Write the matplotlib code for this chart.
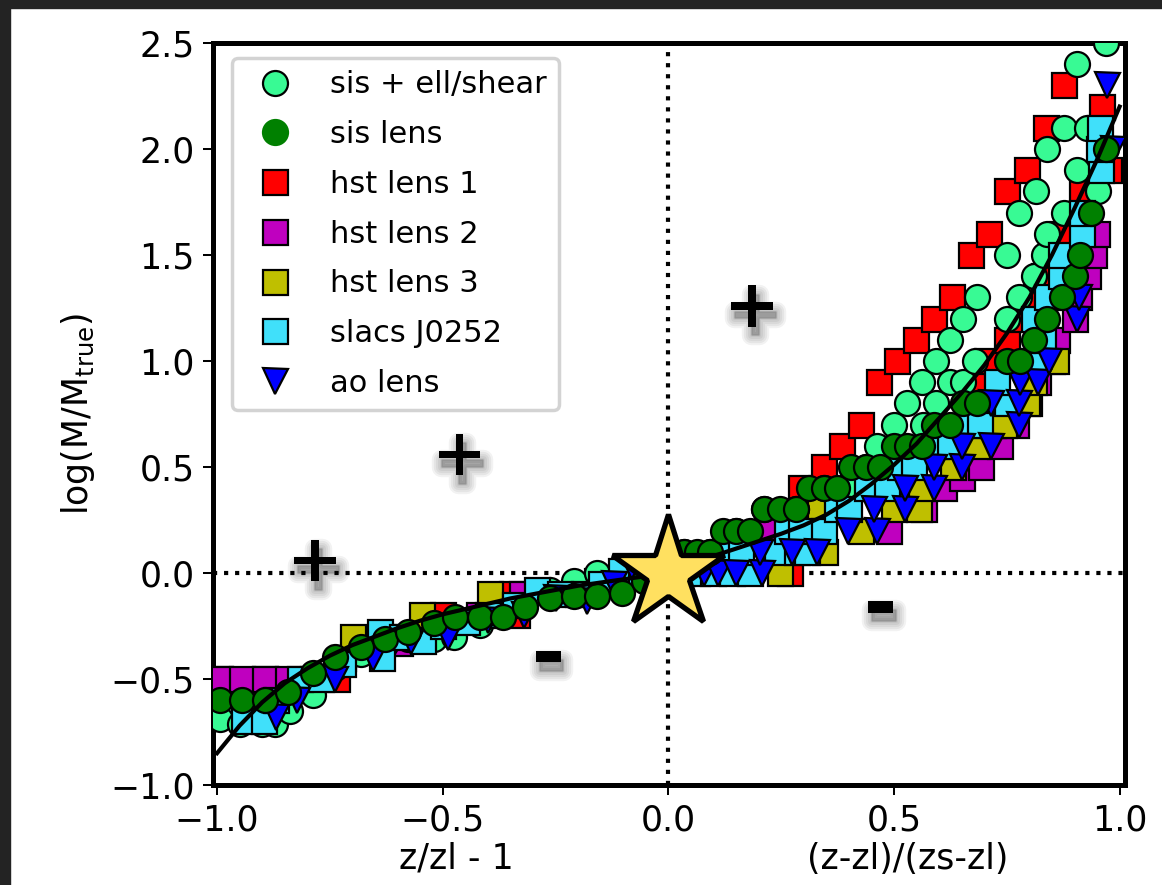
import matplotlib
matplotlib.use("Agg")
import matplotlib.pyplot as plt
import matplotlib.patheffects as pe
from matplotlib.lines import Line2D
from matplotlib.patches import Rectangle

# model curve
curve_x = [-1.0, -0.95, -0.9, -0.85, -0.8, -0.75, -0.7, -0.65, -0.6, -0.55, -0.5,
           -0.45, -0.4, -0.35, -0.3, -0.25, -0.2, -0.15, -0.1, -0.05, 0.0,
           0.05, 0.1, 0.15, 0.2, 0.25, 0.3, 0.35, 0.4, 0.45, 0.5,
           0.55, 0.6, 0.65, 0.7, 0.75, 0.8, 0.85, 0.9, 0.95, 1.0]
curve_y = [-0.85, -0.72, -0.61, -0.52, -0.45, -0.39, -0.34, -0.3, -0.26, -0.225, -0.195,
           -0.17, -0.145, -0.12, -0.1, -0.08, -0.06, -0.045, -0.03, -0.015, 0.0,
           0.04, 0.08, 0.115, 0.15, 0.185, 0.225, 0.275, 0.34, 0.42, 0.51,
           0.61, 0.73, 0.85, 0.98, 1.13, 1.3, 1.5, 1.72, 1.95, 2.2]

# sis + ell/shear
ell_x = [-0.993, -0.95, -0.9, -0.871, -0.838, -0.787, -0.738, -0.68, -0.627, -0.576,
         -0.52, -0.476, -0.417, -0.366, -0.317, -0.262, -0.21, -0.158, -0.103, -0.055,
         0.035, 0.093, 0.151, 0.211, 0.282, 0.344, 0.404, 0.437, 0.463,
         0.5, 0.529, 0.562, 0.592, 0.625, 0.654, 0.684, 0.751, 0.777, 0.814,
         0.84, 0.877, 0.906, 0.969,
         0.565, 0.592, 0.625, 0.654, 0.68, 0.751, 0.777, 0.81, 0.832, 0.84,
         0.877, 0.906, 0.951, 0.928]
ell_y = [-0.69, -0.71, -0.71, -0.71, -0.65, -0.575, -0.45, -0.38, -0.34, -0.31,
         -0.31, -0.3, -0.245, -0.2, -0.15, -0.08, -0.04, 0.0, 0.01, 0.02,
         0.1, 0.1, 0.2, 0.3, 0.3, 0.4, 0.4, 0.5, 0.6,
         0.7, 0.8, 0.9, 1.0, 1.1, 1.2, 1.3, 1.5, 1.7, 1.8,
         2.0, 2.1, 2.4, 2.5,
         0.7, 0.8, 0.9, 0.9, 1.0, 1.2, 1.3, 1.4, 1.5, 1.6,
         1.7, 1.9, 1.8, 2.1]

# sis lens
sis_x = [-0.993, -0.945, -0.894, -0.842, -0.787, -0.738, -0.68, -0.627, -0.576, -0.52,
         -0.472, -0.417, -0.366, -0.317, -0.262, -0.21, -0.158, -0.103, -0.055,
         0.035, 0.064, 0.093, 0.122, 0.151, 0.18, 0.211, 0.248, 0.282, 0.311,
         0.344, 0.374, 0.404, 0.437, 0.47, 0.5, 0.529, 0.562, 0.588, 0.625,
         0.654, 0.684, 0.751, 0.78, 0.81, 0.84, 0.873, 0.9, 0.912, 0.936, 0.969]
sis_y = [-0.6, -0.6, -0.6, -0.56, -0.47, -0.395, -0.35, -0.31, -0.277, -0.237,
         -0.206, -0.206, -0.206, -0.159, -0.118, -0.11, -0.11, -0.095, -0.04,
         0.1, 0.1, 0.1, 0.2, 0.2, 0.2, 0.3, 0.3, 0.3, 0.4,
         0.4, 0.4, 0.5, 0.5, 0.5, 0.6, 0.6, 0.6, 0.7, 0.7,
         0.8, 0.8, 1.0, 1.0, 1.1, 1.2, 1.3, 1.4, 1.5, 1.7, 2.0]

# hst lens 1
hst1_x = [-0.993, -0.894, -0.735, -0.6, -0.5, -0.347, -0.336, -0.2, -0.1,
          0.27, 0.293, 0.344, 0.385, 0.426, 0.466, 0.507, 0.548, 0.588, 0.629,
          0.67, 0.71, 0.751, 0.795, 0.836, 0.877,
          0.692, 0.707, 0.751, 0.78, 0.814, 0.832, 0.873, 0.917, 0.976, 0.962]
hst1_y = [-0.5, -0.5, -0.5, -0.3, -0.2, -0.1, -0.2, -0.1, 0.0,
          0.0, 0.4, 0.5, 0.6, 0.7, 0.9, 1.0, 1.1, 1.2, 1.3,
          1.5, 1.6, 1.8, 1.9, 2.1, 2.3,
          0.9, 1.0, 1.1, 1.2, 1.3, 1.4, 1.6, 1.8, 1.9, 2.2]

# hst lens 2
hst2_x = [-0.993, -0.945, -0.894, -0.842, -0.787, -0.594, -0.42, -0.324, -0.158, -0.1,
          0.219, 0.41, 0.488, 0.566, 0.61, 0.65, 0.692, 0.736, 0.77, 0.8,
          0.82, 0.85, 0.862, 0.9, 0.91, 0.93, 0.943, 0.95]
hst2_y = [-0.5, -0.5, -0.5, -0.5, -0.5, -0.33, -0.2, -0.1, -0.04, 0.0,
          0.2, 0.4, 0.2, 0.3, 0.4, 0.45, 0.5, 0.6, 0.7, 0.8,
          0.9, 1.0, 1.1, 1.2, 1.3, 1.4, 1.5, 1.6]

# hst lens 3
hst3_x = [-0.72, -0.698, -0.546, -0.395,
          0.248, 0.348, 0.337, 0.426, 0.5, 0.555, 0.559, 0.63, 0.684, 0.72,
          0.743, 0.795, 0.81, 0.86]
hst3_y = [-0.4, -0.3, -0.2, -0.1,
          0.0, 0.1, 0.3, 0.2, 0.3, 0.3, 0.4, 0.5, 0.6, 0.7,
          0.7, 0.8, 0.9, 1.0]

# slacs J0252
slacs_x = [-0.94, -0.895, -0.87, -0.816, -0.77, -0.72, -0.635, -0.64, -0.59, -0.543,
           -0.5, -0.446, -0.4, -0.34, -0.292, -0.24, -0.188, -0.15, -0.106, -0.06,
           0.03, 0.064, 0.1, 0.14, 0.18, 0.13, 0.16, 0.241, 0.285, 0.307,
           0.263, 0.293, 0.344, 0.374, 0.4, 0.44, 0.485, 0.514, 0.544, 0.592,
           0.625, 0.67, 0.69, 0.751, 0.729, 0.81, 0.83, 0.81, 0.84, 0.869,
           0.869, 0.917, 0.917, 0.958, 0.954, 0.956]
slacs_y = [-0.7, -0.7, -0.6, -0.5, -0.5, -0.43, -0.4, -0.28, -0.3, -0.32,
           -0.25, -0.23, -0.2, -0.15, -0.08, -0.1, -0.1, -0.05, 0.01, 0.0,
           0.0, 0.0, 0.0, 0.0, 0.0, 0.1, 0.1, 0.1, 0.1, 0.1,
           0.2, 0.2, 0.2, 0.3, 0.3, 0.4, 0.4, 0.5, 0.5, 0.6,
           0.6, 0.7, 0.7, 0.8, 0.9, 1.0, 1.1, 1.2, 1.3, 1.4,
           1.5, 1.6, 1.7, 1.9, 2.0, 2.1]

# ao lens
ao_x = [-0.87, -0.823, -0.738, -0.654, -0.57, -0.488, -0.4, -0.32, -0.25, -0.18, -0.12, -0.073,
        0.078, 0.11, 0.149, 0.208, 0.204, 0.274, 0.33, 0.399, 0.463, 0.455, 0.525,
        0.525, 0.588, 0.588, 0.651, 0.651, 0.714, 0.714, 0.776, 0.776, 0.78, 0.82,
        0.843, 0.906, 0.91, 0.985, 0.973]
ao_y = [-0.68, -0.6, -0.5, -0.4, -0.32, -0.3, -0.22, -0.2, -0.12, -0.13, -0.05, 0.0,
        0.0, 0.0, 0.0, 0.0, 0.1, 0.1, 0.1, 0.2, 0.2, 0.3, 0.3,
        0.4, 0.4, 0.5, 0.5, 0.6, 0.6, 0.8, 0.7, 0.8, 0.9, 0.9,
        1.0, 1.2, 1.3, 2.0, 2.3]

light_green = '#38FA94'
sky = '#40E0FA'
ms = 18
mew = 1.6

fig = plt.figure(figsize=(11.62, 8.85), dpi=100)
ax = fig.add_axes([0.1833, 0.113, 0.7849, 0.8384])

ax.axhline(0, color='k', ls=':', lw=3, zorder=1.5)
ax.axvline(0, color='k', ls=':', lw=3, zorder=1.5)

ax.plot(hst1_x, hst1_y, ls='none', marker='s', ms=ms, mfc='r', mec='k', mew=mew, zorder=3.0)
ax.plot(hst2_x, hst2_y, ls='none', marker='s', ms=ms, mfc='m', mec='k', mew=mew, zorder=3.1)
ax.plot(hst3_x, hst3_y, ls='none', marker='s', ms=ms, mfc='y', mec='k', mew=mew, zorder=3.2)
ax.plot(ell_x, ell_y, ls='none', marker='o', ms=ms, mfc=light_green, mec='k', mew=mew, zorder=3.3)
ax.plot(slacs_x, slacs_y, ls='none', marker='s', ms=ms, mfc=sky, mec='k', mew=mew, zorder=3.4)
ax.plot(ao_x, ao_y, ls='none', marker='v', ms=ms, mfc='b', mec='k', mew=mew, zorder=3.5)
ax.plot(sis_x, sis_y, ls='none', marker='o', ms=ms, mfc='g', mec='k', mew=mew, zorder=3.6)

ax.plot(curve_x, curve_y, color='k', lw=3, zorder=4)
ax.plot([0], [0], marker='*', ms=85, mfc='#FFE060', mec='k', mew=3.8, zorder=5)

# soft drop shadow below the sign labels
shadow = [pe.Stroke(offset=(2, -6), linewidth=w, foreground='k', alpha=0.05)
          for w in (14, 11, 8, 5, 2)] + [pe.Normal()]
signs = [(-0.783, 0.05, '+', 48), (-0.463, 0.55, '+', 48), (0.186, 1.25, '+', 48),
         (-0.266, -0.40, '-', 58), (0.47, -0.165, '-', 58)]
for sx, sy, s, fs in signs:
    ax.text(sx, sy, s, fontsize=fs, fontweight='heavy', ha='center', va='center',
            zorder=6, path_effects=shadow)

ax.set_xlim(-1.009, 1.012)
ax.set_ylim(-1.0, 2.5)
ax.set_xticks([-1.0, -0.5, 0.0, 0.5, 1.0])
ax.set_yticks([-1.0, -0.5, 0.0, 0.5, 1.0, 1.5, 2.0, 2.5])
ax.tick_params(labelsize=25, length=7, width=1.45, pad=6)
for sp in ax.spines.values():
    sp.set_linewidth(3.6)

ax.set_ylabel(r'log(M/M$_{\rm true}$)', fontsize=25, labelpad=10)
ax.text(-0.47, -0.0997, 'z/zl - 1', fontsize=25, ha='center', va='center',
        transform=ax.get_xaxis_transform())
ax.text(0.53, -0.0997, '(z-zl)/(zs-zl)', fontsize=25, ha='center', va='center',
        transform=ax.get_xaxis_transform())

handles = [
    Line2D([], [], ls='none', marker='o', ms=ms, mfc=light_green, mec='k', mew=mew),
    Line2D([], [], ls='none', marker='o', ms=ms, mfc='g', mec='g', mew=mew),
    Line2D([], [], ls='none', marker='s', ms=ms, mfc='r', mec='k', mew=mew),
    Line2D([], [], ls='none', marker='s', ms=ms, mfc='m', mec='k', mew=mew),
    Line2D([], [], ls='none', marker='s', ms=ms, mfc='y', mec='k', mew=mew),
    Line2D([], [], ls='none', marker='s', ms=ms, mfc=sky, mec='k', mew=mew),
    Line2D([], [], ls='none', marker='v', ms=ms, mfc='b', mec='k', mew=mew),
]
labels = ['sis + ell/shear', 'sis lens', 'hst lens 1', 'hst lens 2',
          'hst lens 3', 'slacs J0252', 'ao lens']
leg = ax.legend(handles, labels, loc='upper left', bbox_to_anchor=(0.0208, 0.9798),
                borderaxespad=0, fontsize=22, labelspacing=0.68, framealpha=0.85)
leg.get_frame().set_linewidth(2.5)
leg.set_zorder(7)

# dark strips along the top and left edges
fig.patches.append(Rectangle((0, 0), 10 / 1162, 1, transform=fig.transFigure,
                             color='#232323', zorder=10))
fig.patches.append(Rectangle((0, 1 - 8 / 885), 1, 8 / 885, transform=fig.transFigure,
                             color='#232323', zorder=10))

fig.savefig('out.png', dpi=100)
